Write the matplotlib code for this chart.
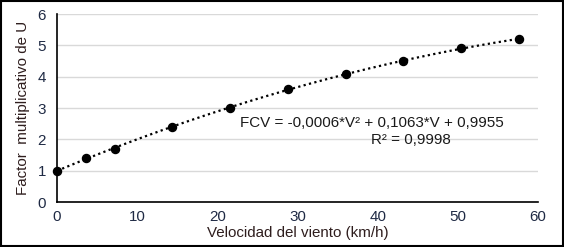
import numpy as np
import matplotlib
matplotlib.use("Agg")
import matplotlib.pyplot as plt
from matplotlib.patches import Rectangle

velocidad = [0, 3.6, 7.2, 14.4, 21.6, 28.8, 36.0, 43.2, 50.4, 57.6]
factor = [1.0, 1.4, 1.7, 2.4, 3.0, 3.6, 4.1, 4.5, 4.9, 5.2]
eq_text = "FCV = -0,0006*V² + 0,1063*V + 0,9955"
r2_text = "R² = 0,9998"
x_ticks = [0, 10, 20, 30, 40, 50, 60]
y_ticks = [0, 1, 2, 3, 4, 5, 6]

plt.rcParams['font.family'] = ['Liberation Sans', 'DejaVu Sans']
tick_col = '#1f2a44'
lab_col = '#2e1d1d'
fs = 10.9

fig = plt.figure(figsize=(5.64, 2.47), dpi=100)
ax = fig.add_axes([57/564, 1-202/247, (538-57)/564, (202-14)/247])

coef = np.polyfit(velocidad, factor, 2)
xs = np.linspace(velocidad[0], velocidad[-1], 200)
ax.plot(xs, np.polyval(coef, xs), color='black', linestyle=(0, (1, 1.5)), linewidth=1.6, zorder=2)
ax.plot(velocidad, factor, 'o', color='black', markersize=5.8, zorder=3, clip_on=False)

ax.set_xlim(0, 60)
ax.set_ylim(0, 6)
ax.set_xticks(x_ticks)
ax.set_yticks(y_ticks)
ax.grid(axis='y', color='#d9d9d9', linewidth=1.0)
ax.set_axisbelow(True)
for s in ['top', 'right']:
    ax.spines[s].set_visible(False)
for s in ['left', 'bottom']:
    ax.spines[s].set_color('black')
    ax.spines[s].set_linewidth(1.2)
ax.tick_params(length=0, labelsize=fs, colors=tick_col, pad=6)
ax.tick_params(axis='y', pad=8)
ax.set_xlabel('Velocidad del viento (km/h)', fontsize=fs, color=lab_col, labelpad=1)
ax.set_ylabel('Factor  multiplicativo de U', fontsize=fs, color=lab_col, labelpad=5)

fig.text(371.5/564, 1-122.7/247, eq_text, ha='center', va='center', fontsize=fs, color='#1a1a1a')
fig.text(371/564, 1-140/247, r2_text, ha='left', va='center', fontsize=fs, color='#1a1a1a')

fig.patches.append(Rectangle((0.002, 0.004), 0.996, 0.992, transform=fig.transFigure,
                             fill=False, edgecolor='black', linewidth=1.5))

fig.savefig('out.png', dpi=100)
